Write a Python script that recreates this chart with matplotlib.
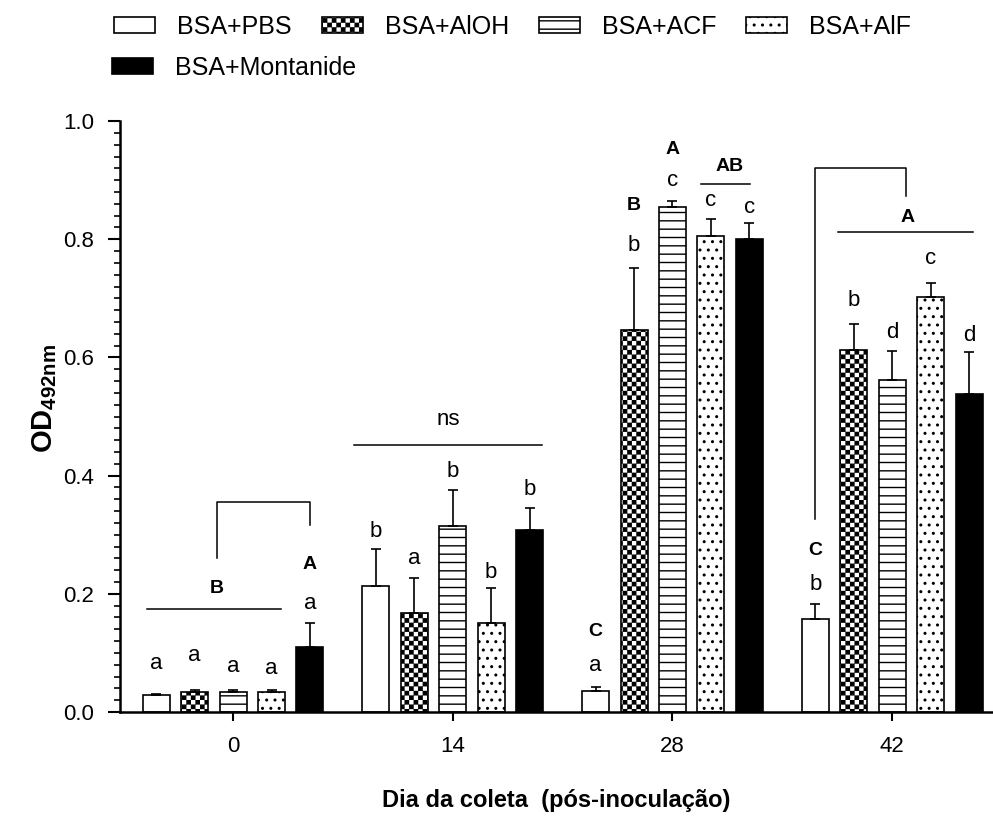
import warnings
import numpy as np
import matplotlib
matplotlib.use("Agg")
import matplotlib.pyplot as plt
import matplotlib.hatch as mhatch
from matplotlib.path import Path
from matplotlib.ticker import MultipleLocator

# 'c' is our own hatch letter (checkerboard), mpl warns about unknown letters
warnings.filterwarnings("ignore", message="hatch must consist")

plt.rcParams["font.family"] = ["Liberation Sans", "DejaVu Sans"]
plt.rcParams["mathtext.fontset"] = "custom"
plt.rcParams["mathtext.rm"] = "Liberation Sans"
plt.rcParams["mathtext.it"] = "Liberation Sans:bold"
plt.rcParams["mathtext.bf"] = "Liberation Sans:bold"
plt.rcParams["hatch.linewidth"] = 1.0


class CheckerHatch(mhatch.HatchPatternBase):
    # filled squares on a 22x22 grid of the hatch unit
    def __init__(self, hatch, density):
        self.n = 22 if "c" in hatch else 0
        self.num_vertices = (self.n * self.n // 2) * 5

    def set_vertices_and_codes(self, vertices, codes):
        n = self.n
        e = 0.006
        k = 0
        for i in range(n):
            for j in range(n):
                if (i + j) % 2:
                    continue
                x0, x1 = i / n + e, (i + 1) / n - e
                y0, y1 = j / n + e, (j + 1) / n - e
                vertices[k:k + 5] = [(x0, y0), (x1, y0), (x1, y1), (x0, y1), (x0, y0)]
                codes[k:k + 5] = [Path.MOVETO, Path.LINETO, Path.LINETO,
                                  Path.LINETO, Path.CLOSEPOLY]
                k += 5


mhatch._hatch_types.append(CheckerHatch)

days = ["0", "14", "28", "42"]
groups = ["BSA+PBS", "BSA+AlOH", "BSA+ACF", "BSA+AlF", "BSA+Montanide"]

pbs = [0.029, 0.213, 0.036, 0.158]
pbs_err = [0.002, 0.062, 0.006, 0.025]
aloh = [0.034, 0.168, 0.646, 0.613]
aloh_err = [0.004, 0.058, 0.105, 0.044]
acf = [0.033, 0.315, 0.854, 0.562]
acf_err = [0.004, 0.061, 0.010, 0.049]
alf = [0.033, 0.150, 0.805, 0.702]
alf_err = [0.004, 0.060, 0.029, 0.024]
mont = [0.110, 0.308, 0.801, 0.538]
mont_err = [0.041, 0.038, 0.026, 0.071]

# letters over each bar (per day, per group)
letters = [["a", "a", "a", "a", "a"],
           ["b", "a", "b", "b", "b"],
           ["a", "b", "c", "c", "c"],
           ["b", "b", "d", "c", "d"]]
letter_y = [[0.073, 0.086, 0.068, 0.065, 0.175],
            [0.296, 0.250, 0.397, 0.226, 0.367],
            [0.070, 0.780, 0.890, 0.856, 0.845],
            [0.206, 0.687, 0.633, 0.758, 0.627]]

# bold group letters: (x, y, text)
group_marks = [(-0.073, 0.202, "B"), (0.35, 0.242, "A"),
               (1.65, 0.128, "C"), (1.825, 0.849, "B"), (2.0, 0.945, "A"),
               (2.26, 0.915, "AB"), (2.65, 0.265, "C"), (3.068, 0.829, "A")]
ns_mark = (0.98, 0.485, "ns")

# horizontal lines (x0, x1, y) and brackets (xl, xr, yl, ytop, yr)
hlines = [(-0.39, 0.22, 0.174), (0.551, 1.406, 0.452),
          (2.13, 2.353, 0.893), (2.754, 3.368, 0.812)]
brackets = [(-0.073, 0.35, 0.261, 0.356, 0.316),
            (2.649, 3.063, 0.326, 0.920, 0.873)]

means = [pbs, aloh, acf, alf, mont]
errs = [pbs_err, aloh_err, acf_err, alf_err, mont_err]
faces = ["white", "white", "white", "white", "black"]
hatches = [None, "c", "--", "..", None]

fig = plt.figure(figsize=(9.93, 8.19), dpi=100)
ax = fig.add_axes([0.121, 0.1307, 0.879, 0.7215])

x = np.arange(len(days))
step = 0.175
width = 0.123
handles = []
for k in range(5):
    pos = x + (k - 2) * step
    b = ax.bar(pos, means[k], width, color=faces[k], edgecolor="black",
               linewidth=1.2, hatch=hatches[k], zorder=2)
    handles.append(b)
    ax.errorbar(pos, means[k], yerr=[np.zeros(4), errs[k]], fmt="none",
                ecolor="black", elinewidth=1.2, capsize=3.6, capthick=1.2, zorder=3)
    for i in range(4):
        ax.text(pos[i], letter_y[i][k], letters[i][k], ha="center", va="baseline",
                fontsize=16)

for gx, gy, t in group_marks:
    ax.text(gx, gy, t, ha="center", va="baseline", fontsize=14, fontweight="bold")
ax.text(ns_mark[0], ns_mark[1], ns_mark[2], ha="center", va="baseline", fontsize=16)

for x0, x1, y in hlines:
    ax.plot([x0, x1], [y, y], color="black", lw=1.1, clip_on=False)
for xl, xr, yl, yt, yr in brackets:
    ax.plot([xl, xl, xr, xr], [yl, yt, yt, yr], color="black", lw=1.1, clip_on=False)

ax.set_xlim(-0.514, 3.459)
ax.set_ylim(0, 1.0)
ax.set_xticks(x)
ax.set_xticklabels(days)
ax.yaxis.set_major_locator(MultipleLocator(0.2))
ax.yaxis.set_minor_locator(MultipleLocator(0.02))

for s in ["top", "right"]:
    ax.spines[s].set_visible(False)
for s in ["left", "bottom"]:
    ax.spines[s].set_linewidth(1.8)

ax.tick_params(axis="y", which="major", length=9, width=1.5, labelsize=16, pad=10)
ax.tick_params(axis="y", which="minor", length=4.5, width=1.2)
ax.tick_params(axis="x", which="major", length=6.5, width=1.5, labelsize=16, pad=11)

ax.set_ylabel(r"$\mathbf{OD}_{\mathbf{492nm}}$", fontsize=21)
ax.yaxis.set_label_coords(-0.07, 0.53)
ax.set_xlabel("Dia da coleta  (pós-inoculação)", fontsize=17, fontweight="bold")
ax.xaxis.set_label_coords(0.5, -0.13)

leg_kw = dict(frameon=False, fontsize=18, handlelength=1.64, handleheight=0.6,
              handletextpad=0.88, columnspacing=1.2, borderpad=0, borderaxespad=0)
leg1 = fig.legend(handles[:4], groups[:4], loc="center left",
                  bbox_to_anchor=(114 / 993, 1 - 27 / 819), ncol=4, **leg_kw)
leg2 = fig.legend(handles[4:], groups[4:], loc="center left",
                  bbox_to_anchor=(112 / 993, 1 - 68 / 819), ncol=1, **leg_kw)

plt.savefig("out.png", dpi=100)
